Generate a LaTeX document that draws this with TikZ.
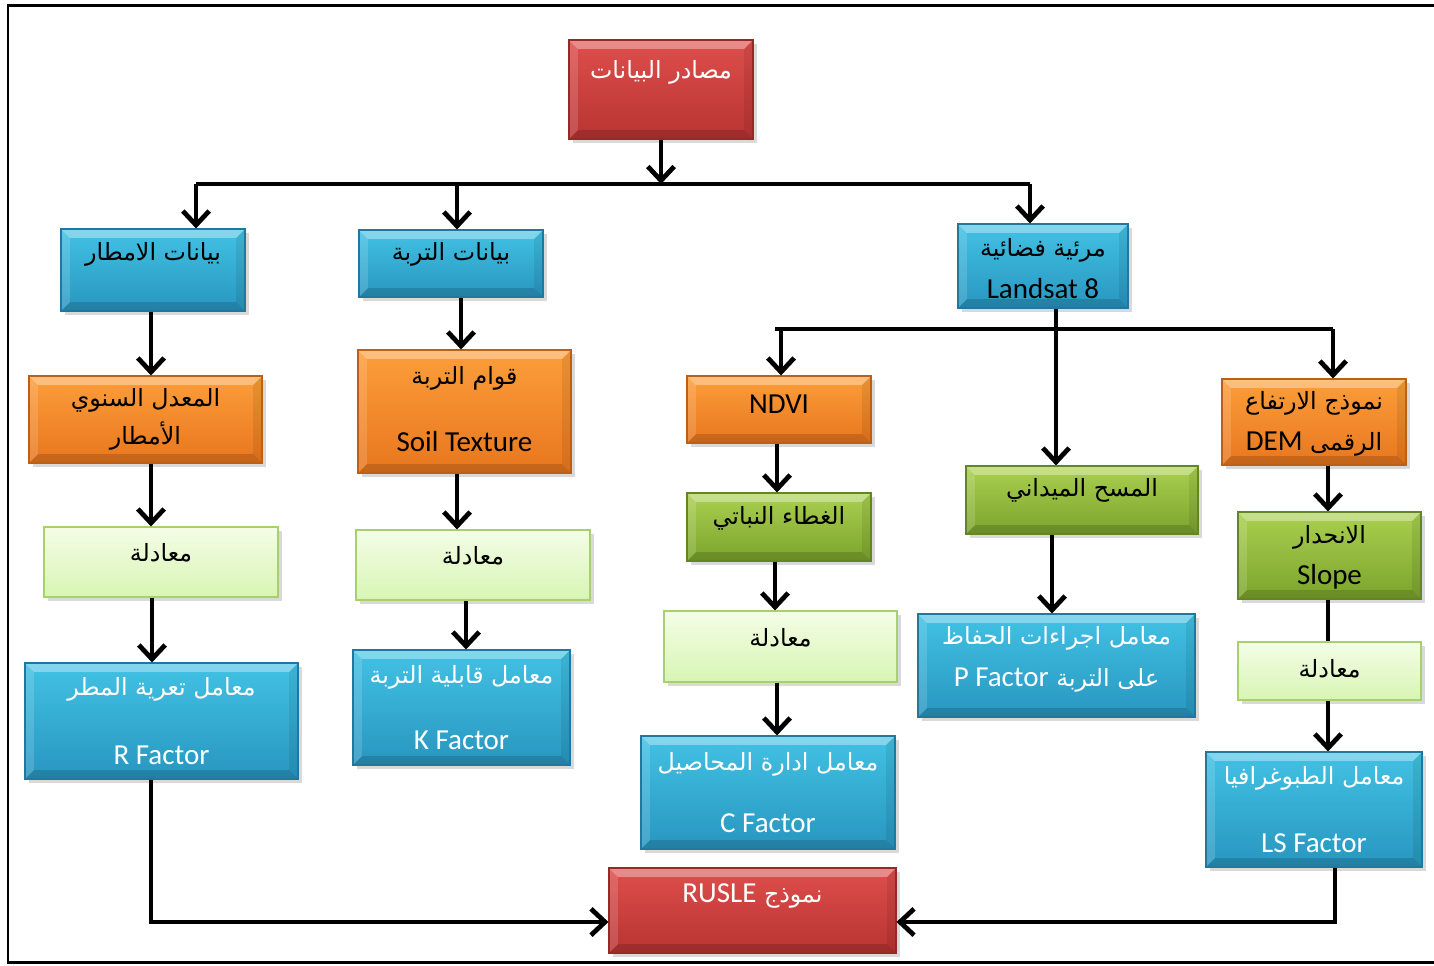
\documentclass[tikz,border=0pt]{standalone}
\usepackage{fontspec}
\setmainfont{Carlito}
\newfontfamily\arabicfont[Script=Arabic, Scale=0.82]{DejaVu Sans}
\TeXXeTstate=1
\usetikzlibrary{arrows.meta,shadows}

\newcommand\latin[1]{\beginL{\rmfamily #1}\endL{}}

\definecolor{redtop}{RGB}{222,78,76}
\definecolor{redbot}{RGB}{184,52,50}
\definecolor{redline}{RGB}{150,40,38}
\definecolor{bluetop}{RGB}{66,194,228}
\definecolor{bluebot}{RGB}{40,150,192}
\definecolor{blueline}{RGB}{32,120,160}
\definecolor{orgtop}{RGB}{252,158,58}
\definecolor{orgbot}{RGB}{232,118,30}
\definecolor{orgline}{RGB}{190,95,22}
\definecolor{grntop}{RGB}{170,208,80}
\definecolor{grnbot}{RGB}{124,164,44}
\definecolor{grnline}{RGB}{98,134,34}
\definecolor{eqtop}{RGB}{244,253,230}
\definecolor{eqbot}{RGB}{216,245,180}
\definecolor{eqline}{RGB}{168,208,110}

\begin{document}
\begin{tikzpicture}[x=0.02cm, y=-0.02cm,
	 box/.style={rectangle, draw=#1line, line width=0.6pt, top color=#1top, bottom color=#1bot,
		 drop shadow={shadow xshift=2pt, shadow yshift=-2.5pt, opacity=0.3}},
	 bevel/.style={path picture={
		 \coordinate (nw) at (path picture bounding box.north west);
		 \coordinate (ne) at (path picture bounding box.north east);
		 \coordinate (sw) at (path picture bounding box.south west);
		 \coordinate (se) at (path picture bounding box.south east);
		 \fill[white, opacity=0.35] (nw) -- (ne) -- ([shift={(-5pt,-5pt)}]ne) -- ([shift={(5pt,-5pt)}]nw) -- cycle;
		 \fill[white, opacity=0.15] (nw) -- ([shift={(5pt,-5pt)}]nw) -- ([shift={(5pt,5pt)}]sw) -- (sw) -- cycle;
		 \fill[black, opacity=0.15] (sw) -- (se) -- ([shift={(-5pt,5pt)}]se) -- ([shift={(5pt,5pt)}]sw) -- cycle;
		 \fill[black, opacity=0.08] (ne) -- ([shift={(-5pt,-5pt)}]ne) -- ([shift={(-5pt,5pt)}]se) -- (se) -- cycle;
	 }},
	 sz/.style 2 args={minimum width=#1*0.02cm, minimum height=#2*0.02cm, inner sep=0pt},
	 every label/.style={align=center, font=\fontsize{16.5}{19}\selectfont},
	 line/.style={line width=2.7pt},
	 arr/.style={line, -{Straight Barb[length=8pt, width=15pt]}}]
	 \useasboundingbox (0,0) rectangle (1434,965);
	 \draw[line width=1.7pt] (1434,962) -- (8,962) -- (8,5) -- (1434,5);

	 \node[box=red, bevel, sz={184}{99}, label={[white, yshift=10pt]center:{\arabicfont\beginR مصادر البيانات\endR}}] (src) at (661,89.5) {};

	 \node[box=blue, bevel, sz={184}{82}, label={[yshift=9pt]center:{\arabicfont\beginR بيانات الامطار\endR}}] (rain) at (153,270) {};
	 \node[box=blue, bevel, sz={184}{67}, label={[yshift=5pt]center:{\arabicfont\beginR بيانات التربة\endR}}] (soil) at (451,263.5) {};
	 \node[box=blue, bevel, sz={170}{84}, label={[yshift=-1.5pt]center:{\arabicfont\beginR مرئية فضائية\endR}\\[5pt]Landsat 8}] (sat) at (1043,266) {};

	 \node[box=org, bevel, sz={233}{87}, label={center:{\arabicfont\beginR المعدل السنوي\endR}\\[3pt]{\arabicfont\beginR الأمطار\endR}}] (rate) at (145.5,419.5) {};
	 \node[box=org, bevel, sz={213}{123}, label={[yshift=1.5pt]center:{\arabicfont\beginR قوام التربة\endR}\\[19pt]Soil Texture}] (texture) at (464.5,411.5) {};
	 \node[box=eq, sz={234}{70}, label={[yshift=5pt]center:{\arabicfont\beginR معادلة\endR}}] (eq1) at (161,562) {};
	 \node[box=eq, sz={234}{70}, label={[yshift=5pt]center:{\arabicfont\beginR معادلة\endR}}] (eq2) at (473,565) {};
	 \node[box=blue, bevel, sz={273}{116}, label={[white]center:{\arabicfont\beginR معامل تعرية المطر\endR}\\[20pt]R Factor}] (rfac) at (161.5,721) {};
	 \node[box=blue, bevel, sz={217}{115}, label={[white]center:{\arabicfont\beginR معامل قابلية التربة\endR}\\[19pt]K Factor}] (kfac) at (461.5,707.5) {};

	 \node[box=org, bevel, sz={184}{67}, label={[yshift=3pt]center:NDVI}] (ndvi) at (779,409.5) {};
	 \node[box=grn, bevel, sz={184}{68}, label={[yshift=5pt]center:{\arabicfont\beginR الغطاء النباتي\endR}}] (veg) at (779,527) {};
	 \node[box=eq, sz={233}{71}, label={[yshift=5pt]center:{\arabicfont\beginR معادلة\endR}}] (eq3) at (780.5,646.5) {};
	 \node[box=blue, bevel, sz={254}{113}, label={[white]center:{\arabicfont\beginR معامل ادارة المحاصيل\endR}\\[16pt]C Factor}] (cfac) at (768,792.5) {};

	 \node[box=grn, bevel, sz={232}{68}, label={[yshift=5.5pt]center:{\arabicfont\beginR المسح الميداني\endR}}] (field) at (1082,500) {};
	 \node[box=blue, bevel, sz={277}{103}, label={[white, yshift=3.5pt]center:{\arabicfont\beginR معامل اجراءات الحفاظ\endR}\\[5pt]{\arabicfont\beginR على التربة \latin{P Factor}\endR}}] (pfac) at (1056.5,665.5) {};

	 \node[box=org, bevel, sz={184}{86}, label={[yshift=-1pt]center:{\arabicfont\beginR نموذج الارتفاع\endR}\\[4pt]{\arabicfont\beginR الرقمى \latin{DEM}\endR}}] (dem) at (1314,422) {};
	 \node[box=grn, bevel, sz={183}{87}, label={[yshift=-1pt]center:{\arabicfont\beginR الانحدار\endR}\\[4pt]Slope}] (slope) at (1329.5,555.5) {};
	 \node[box=eq, sz={183}{58}, label={[yshift=1.5pt]center:{\arabicfont\beginR معادلة\endR}}] (eq4) at (1329.5,671) {};
	 \node[box=blue, bevel, sz={216}{115}, label={[white]center:{\arabicfont\beginR معامل الطبوغرافيا\endR}\\[20pt]LS Factor}] (lsfac) at (1314,809.5) {};

	 \node[box=red, bevel, sz={287}{85}, label={[white, yshift=8pt]center:{\arabicfont\beginR نموذج \latin{RUSLE}\endR}}] (rusle) at (752.5,910.5) {};

	 \coordinate (bus1) at (661,184);
	 \coordinate (bus2) at (1056,329);
	 \draw[arr] (src.south) -- (src.south |- bus1);
	 \draw[line] (196,0 |- bus1) -- (1030,0 |- bus1);
	 \foreach \x/\b in {196/rain, 457/soil, 1030/sat}
	 \draw[arr] (\x,0 |- bus1) -- (\x,0 |- \b.north);
	 \draw[arr] (1056,0 |- sat.south) -- (1056,0 |- field.north);
	 \draw[line] (775,0 |- bus2) -- (1333,0 |- bus2);
	 \foreach \x/\b in {781/ndvi, 1333/dem}
	 \draw[arr] (\x,0 |- bus2) -- (\x,0 |- \b.north);

	 \foreach \x/\a/\b in {151/rain/rate, 151/rate/eq1, 152/eq1/rfac, 461/soil/texture, 457/texture/eq2, 466/eq2/kfac,
		 777/ndvi/veg, 775/veg/eq3, 777/eq3/cfac, 1052/field/pfac, 1328/dem/slope, 1328/eq4/lsfac}
	 \draw[arr] (\x,0 |- \a.south) -- (\x,0 |- \b.north);
	 \draw[line] (1328,0 |- slope.south) -- (1328,0 |- eq4.north);

	 \draw[arr] (151,0 |- rfac.south) |- (rusle.west |- 0,922);
	 \draw[arr] (1335,0 |- lsfac.south) |- (rusle.east |- 0,922);
\end{tikzpicture}
\end{document}
